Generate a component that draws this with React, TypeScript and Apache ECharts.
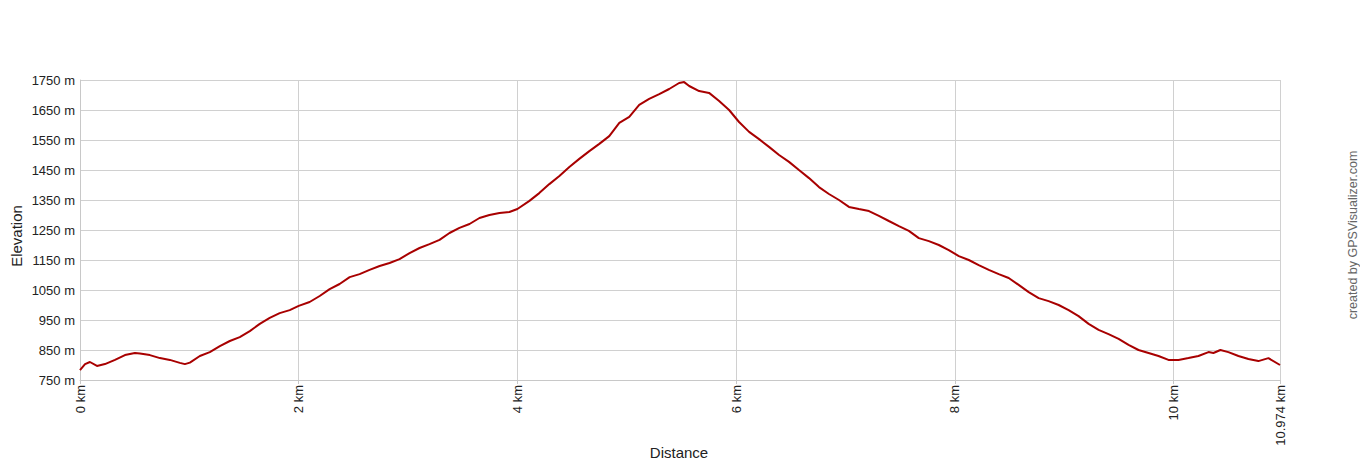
import React, { useEffect, useRef } from "react";
import * as echarts from "echarts";

const distanceKm = [0, 0.046, 0.091, 0.155, 0.228, 0.32, 0.411, 0.502, 0.548, 0.639, 0.731, 0.822, 0.913, 0.959, 1.005, 1.096, 1.187, 1.279, 1.37, 1.461, 1.553, 1.644, 1.735, 1.826, 1.918, 2.0, 2.1, 2.192, 2.283, 2.374, 2.466, 2.557, 2.648, 2.74, 2.831, 2.922, 3.014, 3.105, 3.196, 3.288, 3.379, 3.47, 3.562, 3.653, 3.744, 3.836, 3.927, 4.0, 4.11, 4.2, 4.292, 4.384, 4.475, 4.566, 4.658, 4.749, 4.84, 4.932, 5.023, 5.114, 5.205, 5.297, 5.388, 5.479, 5.525, 5.571, 5.662, 5.753, 5.845, 5.936, 6.027, 6.119, 6.21, 6.301, 6.393, 6.484, 6.575, 6.667, 6.758, 6.849, 6.941, 7.032, 7.123, 7.215, 7.306, 7.397, 7.489, 7.58, 7.671, 7.763, 7.854, 7.945, 8.037, 8.128, 8.219, 8.311, 8.402, 8.493, 8.584, 8.676, 8.767, 8.858, 8.95, 9.041, 9.132, 9.224, 9.315, 9.406, 9.498, 9.589, 9.68, 9.772, 9.863, 9.954, 10.046, 10.137, 10.228, 10.32, 10.365, 10.429, 10.502, 10.594, 10.685, 10.776, 10.868, 10.974];

const elevationM = [783, 803, 810, 797, 803, 817, 833, 840, 838, 833, 823, 817, 807, 803, 808, 830, 843, 863, 880, 893, 913, 937, 957, 973, 983, 997, 1010, 1030, 1053, 1070, 1093, 1103, 1117, 1130, 1140, 1153, 1173, 1190, 1203, 1217, 1240, 1257, 1270, 1290, 1300, 1307, 1310, 1320, 1347, 1373, 1403, 1430, 1460, 1487, 1513, 1537, 1563, 1607, 1627, 1667, 1687, 1703, 1720, 1740, 1743, 1730, 1713, 1707, 1680, 1650, 1610, 1577, 1553, 1527, 1500, 1477, 1450, 1423, 1393, 1370, 1350, 1327, 1320, 1313, 1297, 1280, 1263, 1247, 1223, 1213, 1200, 1183, 1163, 1150, 1133, 1117, 1103, 1090, 1067, 1043, 1023, 1013, 1000, 983, 963, 937, 917, 903, 887, 867, 850, 840, 830, 817, 817, 823, 830, 843, 840, 850, 843, 830, 820, 813, 823, 800];

const yMin = 750;
const yMax = 1750;
const yStep = 100;
const xMax = 10.974;
const xStep = 2;

export default function App() {
  const ref = useRef<HTMLDivElement>(null);
  useEffect(() => {
    if (!ref.current) return;
    const chart = echarts.init(ref.current, undefined, { renderer: "svg" });
    const data = distanceKm.map((d, i) => [d, elevationM[i]]);
    const font = "Arial, 'Liberation Sans', sans-serif";
    chart.setOption({
      animation: false,
      backgroundColor: "#ffffff",
      grid: { left: 80, right: 80, top: 80, bottom: 80, containLabel: false },
      xAxis: {
        type: "value",
        min: 0,
        max: xMax,
        interval: xStep,
        axisLine: { show: true, lineStyle: { color: "#c8c8c8", width: 1 } },
        axisTick: { show: true, length: 4, lineStyle: { color: "#c8c8c8" } },
        splitLine: { show: true, lineStyle: { color: "#d0d0d0", width: 1 } },
        axisLabel: {
          rotate: 90,
          color: "#222",
          fontSize: 13,
          fontFamily: font,
          margin: 5,
          showMaxLabel: true,
          formatter: (v: number) => (Math.abs(v - xMax) < 1e-6 ? "10.974 km" : `${v} km`),
        },
      },
      yAxis: {
        type: "value",
        min: yMin,
        max: yMax,
        interval: yStep,
        axisLine: { show: true, lineStyle: { color: "#c8c8c8", width: 1 } },
        axisTick: { show: false },
        splitLine: { show: true, lineStyle: { color: "#d0d0d0", width: 1 } },
        axisLabel: {
          color: "#222",
          fontSize: 13,
          fontFamily: font,
          margin: 5,
          formatter: (v: number) => `${v} m`,
        },
      },
      graphic: [
        {
          type: "text",
          x: 16,
          y: 236,
          rotation: Math.PI / 2,
          style: { text: "Elevation", fill: "#222", font: `15px ${font}`, textAlign: "center", textVerticalAlign: "middle" },
        },
        {
          type: "text",
          x: 679,
          y: 452,
          style: { text: "Distance", fill: "#222", font: `15px ${font}`, textAlign: "center", textVerticalAlign: "middle" },
        },
        {
          type: "text",
          x: 1353,
          y: 235,
          rotation: Math.PI / 2,
          style: { text: "created by GPSVisualizer.com", fill: "#666", font: `12.5px ${font}`, textAlign: "center", textVerticalAlign: "middle" },
        },
      ],
      series: [
        {
          type: "line",
          data,
          showSymbol: false,
          symbol: "none",
          lineStyle: { color: "#a80000", width: 2 },
        },
      ],
    });
    return () => chart.dispose();
  }, []);
  return (
    <div
      ref={ref}
      style={{ position: "absolute", left: 0, top: 0, width: 1360, height: 460 }}
    />
  );
}
